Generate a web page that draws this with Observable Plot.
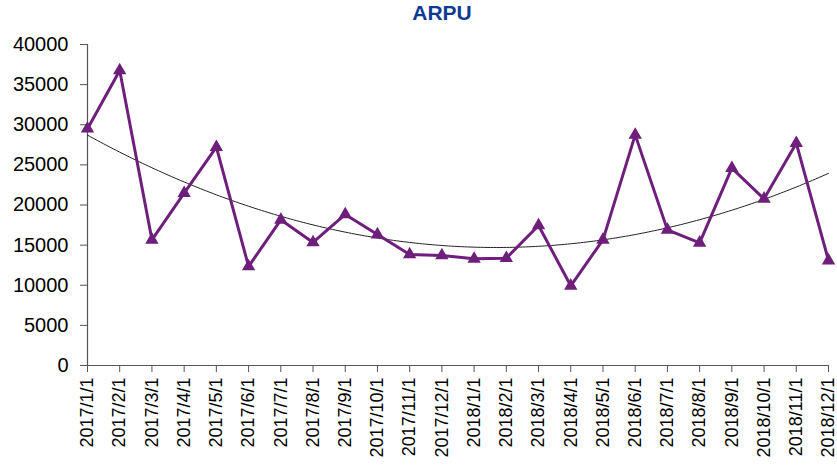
<!DOCTYPE html>
<html>
<head>
<meta charset="utf-8">
<script src="https://cdn.jsdelivr.net/npm/d3@7"></script>
<script src="https://cdn.jsdelivr.net/npm/@observablehq/plot@0.6"></script>
<style>
  html, body { margin: 0; padding: 0; background: #fff; }
  #wrap { position: relative; width: 837px; height: 468px; font-family: "Liberation Sans", Arial, sans-serif; }
  #title { position: absolute; left: 0; width: 884px; top: 1px; text-align: center; font-weight: bold; font-size: 21px; color: #0d3b94; }
</style>
</head>
<body>
<div id="wrap"><div id="title">ARPU</div></div>
<script>
const months = ["2017/1/1","2017/2/1","2017/3/1","2017/4/1","2017/5/1","2017/6/1","2017/7/1","2017/8/1","2017/9/1","2017/10/1","2017/11/1","2017/12/1",
                "2018/1/1","2018/2/1","2018/3/1","2018/4/1","2018/5/1","2018/6/1","2018/7/1","2018/8/1","2018/9/1","2018/10/1","2018/11/1","2018/12/1"];
const arpu = [29500, 36760, 15660, 21470, 27200, 12340, 18150, 15330, 18820, 16320, 13830, 13710,
              13290, 13370, 17450, 9930, 15660, 28740, 16900, 15290, 24590, 20770, 27700, 13080];
const yTicks = [0, 5000, 10000, 15000, 20000, 25000, 30000, 35000, 40000];

const data = months.map((m, i) => ({i, m, v: arpu[i]}));

// 2nd-order polynomial trendline (least squares), as the spreadsheet draws
function quadFit(xs, ys) {
  let S = [0,0,0,0,0], T = [0,0,0];
  xs.forEach((x, k) => { for (let p = 0; p < 5; p++) S[p] += x ** p; for (let p = 0; p < 3; p++) T[p] += ys[k] * x ** p; });
  const A = [[S[0],S[1],S[2],T[0]],[S[1],S[2],S[3],T[1]],[S[2],S[3],S[4],T[2]]];
  for (let c = 0; c < 3; c++) {
    for (let r = c + 1; r < 3; r++) { const f = A[r][c] / A[c][c]; for (let k = c; k < 4; k++) A[r][k] -= f * A[c][k]; }
  }
  const b = [0,0,0];
  for (let r = 2; r >= 0; r--) { let s = A[r][3]; for (let k = r + 1; k < 3; k++) s -= A[r][k] * b[k]; b[r] = s / A[r][r]; }
  return x => b[0] + b[1] * x + b[2] * x * x;
}
const fit = quadFit(data.map(d => d.i), arpu);
const trend = d3.range(0, months.length - 1 + 1e-9, 0.1).map(x => ({x, y: fit(x)}));

const purple = "#6e1f7c";
const chart = Plot.plot({
  width: 837,
  height: 468,
  marginTop: 44,
  marginBottom: 103,
  marginLeft: 87,
  marginRight: 9,
  style: {fontFamily: "'Liberation Sans', Arial, sans-serif", background: "transparent", color: "#000"},
  x: {type: "linear", domain: [0, months.length - 1]},
  y: {domain: [0, 40000]},
  marks: [
    Plot.axisY({ticks: yTicks, tickFormat: d => String(d), tickSize: 7, tickPadding: 12, fontSize: 20, stroke: "#555", label: null}),
    Plot.axisX({ticks: d3.range(months.length), tickFormat: i => months[i], tickSize: 7, tickPadding: 5, tickRotate: -90, fontSize: 18, stroke: "#555", label: null}),
    Plot.ruleY([0], {stroke: "#555", strokeWidth: 1.2}),
    Plot.ruleX([0], {y1: 0, y2: 40000, stroke: "#555", strokeWidth: 1.2}),
    Plot.line(trend, {x: "x", y: "y", stroke: "#222", strokeWidth: 1}),
    Plot.line(data, {x: "i", y: "v", stroke: purple, strokeWidth: 3}),
    Plot.dot(data, {x: "i", y: "v", symbol: "triangle", r: 4, fill: purple, stroke: purple})
  ]
});
document.getElementById("wrap").appendChild(chart);
chart.style.position = "absolute";
chart.style.left = "0";
chart.style.top = "0";
document.getElementById("title").style.zIndex = 2;
</script>
</body>
</html>
